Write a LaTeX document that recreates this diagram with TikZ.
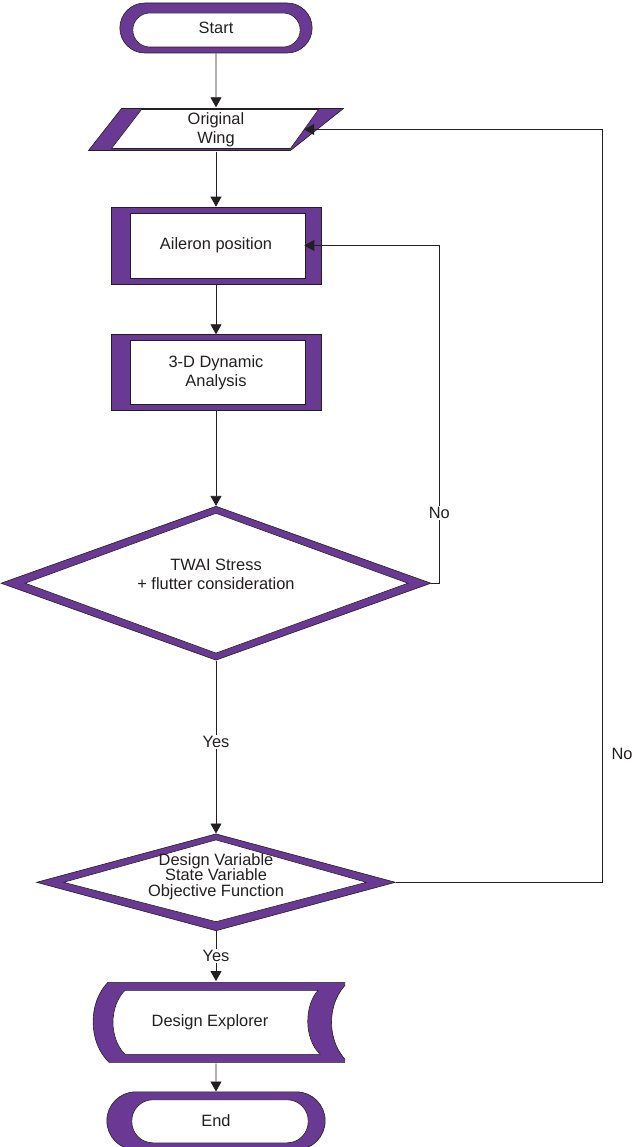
\documentclass[tikz,border=0pt]{standalone}
\usepackage{fontspec}
\setmainfont{Liberation Sans}
\usetikzlibrary{shapes.geometric, shapes.misc, arrows.meta, positioning, calc}
\definecolor{bandpurple}{RGB}{106, 57, 148}
\definecolor{inkgray}{RGB}{35, 31, 32}

\begin{document}
\begin{tikzpicture}[
        x=1pt, y=1pt,
        node distance=50pt,
        every node/.style={font=\fontsize{16.4}{19}\selectfont, text=inkgray},
        band/.style={draw=inkgray, line width=0.6pt, fill=bandpurple},
        inner/.style={draw=inkgray, line width=0.6pt, fill=white},
        inset/.style n args={5}{path picture={\draw[inner, #5] ($(path picture bounding box.south west)+(#1,#4)$) rectangle ($(path picture bounding box.north east)+(-#2,-#3)$);}},
        dinset/.style n args={4}{path picture={\draw[inner] ($(path picture bounding box.north)+(0,-#3)$) -- ($(path picture bounding box.east)+(-#2,0)$) -- ($(path picture bounding box.south)+(0,#4)$) -- ($(path picture bounding box.west)+(#1,0)$) -- cycle;}},
        terminal/.style={rounded rectangle, band},
        process/.style={rectangle, band, minimum width=210pt, inset={19}{16}{6}{6}{}},
        decision/.style={diamond, band, inner sep=0pt, align=center},
        arrow/.style={line width=0.8pt, draw=inkgray, -{Triangle[length=10pt, width=11pt]}}
    ]

        \useasboundingbox (0,0) rectangle (631,-1147);

        \node[terminal, minimum width=199pt, minimum height=50pt, inset={13}{12}{10}{6}{rounded corners=17pt}] (start) at (216,-28) {Start};
        \node[below=54pt of start, minimum width=256pt, minimum height=44pt, align=center,
            path picture={
                \draw[band] ($(path picture bounding box.center)+(-127.5,-21)$) -- ++(202,0) -- ++(53,42) -- ++(-222,0) -- cycle;
                \draw[inner] ($(path picture bounding box.center)+(-104.5,-19)$) -- ++(179,0) -- ++(28,39) -- ++(-177,0) -- cycle;
            }] (wing) {Original\\Wing};
        \node[process, below=55pt of wing, minimum height=77pt] (aileron) {Aileron position};
        \node[process, below=50pt of aileron, minimum height=76pt, align=center] (dyn) {3-D Dynamic\\Analysis};
        \node[decision, below=95pt of dyn, minimum width=430pt, minimum height=154pt, aspect=2.8, text depth=18pt, dinset={24}{23}{7}{7}] (twai) {TWAI Stress\\+ flutter consideration};
        \node[decision, below=173pt of twai, minimum width=359pt, minimum height=97pt, aspect=3.5, text depth=15pt, dinset={27}{29}{6}{9}, font=\fontsize{16.4}{15.5}\selectfont] (design) {Design Variable\\State Variable\\Objective Function};
        \node[below=50pt of design, xshift=-6pt, minimum width=270pt, minimum height=82pt,
            path picture={
                \draw[band] ($(path picture bounding box.center)+(-102,40)$) .. controls +(-20,-20) and +(-21,20) .. ++(1,-80) -- ++(239,0) .. controls +(-22,20) and +(-22,-20) .. ++(0,80) -- cycle;
                \draw[inner] ($(path picture bounding box.center)+(-85,32)$) .. controls +(-16,-16) and +(-16,16) .. ++(0,-64) -- ++(195,0) .. controls +(-16,16) and +(-14,-16) .. ++(-2,64) -- cycle;
            }] (explorer) {Design Explorer};
        \node[terminal, below=28pt of explorer, xshift=6pt, minimum width=225pt, minimum height=58pt, inset={25}{17}{8}{7}{rounded corners=21pt}] (end) {End};

        \draw[arrow] (start) -- (wing);
        \draw[arrow] (wing) -- (aileron);
        \draw[arrow] (aileron) -- (dyn);
        \draw[arrow] (dyn) -- (twai);
        \draw[arrow] (twai) -- node[pos=0.47, fill=white, inner sep=1pt] {Yes} (design);
        \draw[arrow] (design) -- node[fill=white, inner sep=1pt] {Yes} (design.south |- explorer.north);
        \draw[arrow] (end.north |- explorer.south) -- (end);
        \draw[arrow] (twai.east) -- ++(8,0) |- node[pos=0.104, fill=white, inner sep=1pt] {No} ([xshift=-17pt]aileron.east);
        \draw[arrow] (design.east) -- ++(207,0) |- node[pos=0.085, anchor=west, xshift=5pt] {No} ([xshift=-40pt]wing.east);

    \end{tikzpicture}
\end{document}
